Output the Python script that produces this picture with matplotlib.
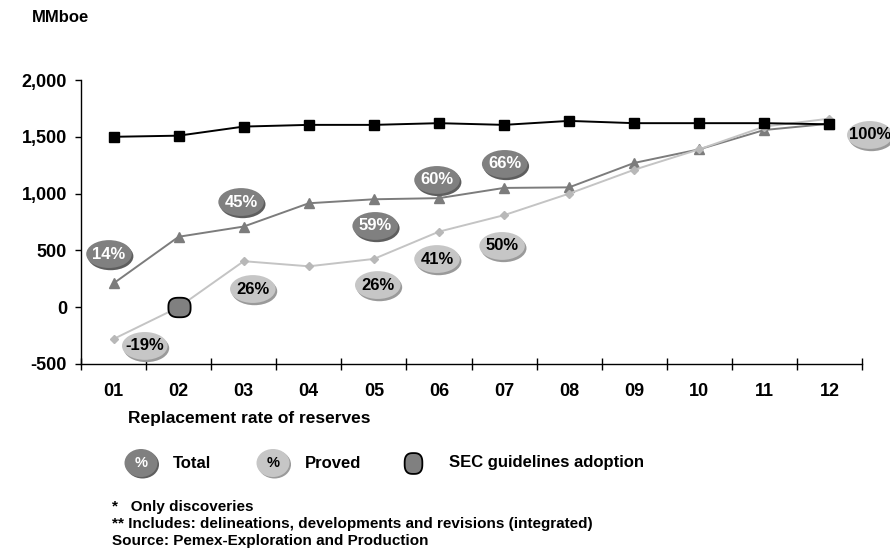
import matplotlib
matplotlib.use('Agg')
import matplotlib.pyplot as plt
from matplotlib.patches import Ellipse
from matplotlib.path import Path
import numpy as np

plt.rcParams['font.family'] = ['Liberation Sans', 'DejaVu Sans']
plt.rcParams['font.weight'] = 'bold'

# ---------------- data ----------------
years = ['01', '02', '03', '04', '05', '06', '07', '08', '09', '10', '11', '12']
production = [1500, 1510, 1590, 1605, 1605, 1620, 1605, 1640, 1620, 1620, 1620, 1610]
total_reserves = [210, 620, 710, 915, 950, 960, 1050, 1055, 1270, 1390, 1560, 1615]
proved_reserves = [-280, 0, 405, 360, 425, 665, 810, 1000, 1210, 1390, 1590, 1660]

total_rate_years = ['01', '03', '05', '06', '07']
total_rate_labels = ['14%', '45%', '59%', '60%', '66%']
proved_rate_years = ['01', '03', '05', '06', '07', '12']
proved_rate_labels = ['-19%', '26%', '26%', '41%', '50%', '100%']
sec_year = '02'
sec_value = 0

yticks = [-500, 0, 500, 1000, 1500, 2000]

# ---------------- layout (label placement) ----------------
total_bubble_dx = [-0.07, -0.04, 0.02, -0.03, 0.01]
total_bubble_y = [468, 926, 715, 1120, 1261]
proved_bubble_dx = [0.48, 0.14, 0.06, -0.03, -0.03, 0.62]
proved_bubble_y = [-341, 160, 195, 424, 539, 1516]

DARK_FILL, DARK_RIM = '#808080', '#5e5e5e'
LIGHT_FILL, LIGHT_RIM = '#c6c6c6', '#9a9a9a'


def rounded_marker(sx, sy, n=2.8):
    t = np.linspace(0, 2 * np.pi, 73)
    c, s = np.cos(t), np.sin(t)
    xs = sx * np.sign(c) * np.abs(c) ** (2 / n)
    ys = sy * np.sign(s) * np.abs(s) ** (2 / n)
    return Path(np.column_stack([xs, ys]), closed=True)


W, H = 890, 558
fig = plt.figure(figsize=(W / 100, H / 100), dpi=100)
ax = fig.add_axes([81 / W, (H - 364) / H, (862 - 81) / W, (364 - 80) / H])

x = np.arange(len(years))
ax.plot(x, production, color='black', lw=1.4, marker='s', ms=7.5, zorder=5)
ax.plot(x, total_reserves, color='#7c7c7c', lw=1.4, marker='^', ms=7.5, zorder=3)
ax.plot(x, proved_reserves, color='#c4c4c4', lw=1.4, marker='D', ms=4.5,
        mfc='#b8b8b8', mec='#b8b8b8', zorder=4)

sx = years.index(sec_year)
ax.plot([sx], [sec_value], marker=rounded_marker(1.0, 0.88), ms=16,
        mfc='#808080', mec='black', mew=1.3, zorder=6, linestyle='none')


def bubble(axis, cx, cy, text, fill, rim, tcolor, w, h, sdx, sdy, fs):
    sh = Ellipse((cx + sdx, cy + sdy), w, h, facecolor=rim, edgecolor='none',
                 zorder=7, clip_on=False)
    axis.add_patch(sh)
    e = Ellipse((cx, cy), w, h, facecolor=fill, edgecolor='none', zorder=8,
                clip_on=False)
    axis.add_patch(e)
    axis.text(cx, cy, text, ha='center', va='center', color=tcolor,
              fontsize=fs, fontweight='bold', zorder=9, clip_on=False)


bw, bh = 0.70, 245
for yr, lab, dx, by in zip(total_rate_years, total_rate_labels, total_bubble_dx, total_bubble_y):
    bubble(ax, years.index(yr) + dx, by, lab, DARK_FILL, DARK_RIM, 'white',
           bw, bh, 0.025, -20, 12)
for yr, lab, dx, by in zip(proved_rate_years, proved_rate_labels, proved_bubble_dx, proved_bubble_y):
    bubble(ax, years.index(yr) + dx, by, lab, LIGHT_FILL, LIGHT_RIM, 'black',
           bw, bh, 0.025, -20, 12)

ax.set_xlim(-0.5, len(years) - 0.5)
ax.set_ylim(-500, 2000)
ax.set_yticks(yticks)
ax.set_yticklabels([f'{v:,}' for v in yticks])
ax.set_xticks(np.arange(-0.5, len(years)), labels=[''] * (len(years) + 1))
ax.set_xticks(x, labels=years, minor=True)
ax.tick_params(axis='x', which='major', direction='inout', length=8, width=1)
ax.tick_params(axis='x', which='minor', length=0, pad=14, labelsize=13)
ax.tick_params(axis='y', direction='out', length=4, width=1, pad=6, labelsize=13)
for lab in ax.get_xticklabels(minor=True) + ax.get_yticklabels():
    lab.set_fontweight('bold')
for s in ['top', 'right']:
    ax.spines[s].set_visible(False)
for s in ['left', 'bottom']:
    ax.spines[s].set_linewidth(1)
ax.patch.set_visible(False)

# ---------------- overlay for free texts & legend (pixel coordinates) ----------------
ov = fig.add_axes([0, 0, 1, 1], zorder=-1)
ov.set_xlim(0, W)
ov.set_ylim(H, 0)
ov.axis('off')

ov.text(32, 17, 'MMboe', fontsize=12, fontweight='bold', va='center', ha='left')
ov.text(128, 418, 'Replacement rate of reserves', fontsize=12.5, fontweight='bold',
        va='center', ha='left')

# legend
bubble(ov, 141, 463, '%', DARK_FILL, DARK_RIM, 'white', 33, 28, 1.5, 1.5, 10.5)
ov.text(173, 463, 'Total', fontsize=12, fontweight='bold', va='center', ha='left')
bubble(ov, 273, 463, '%', LIGHT_FILL, LIGHT_RIM, 'black', 33, 28, 1.5, 1.5, 10.5)
ov.text(305, 463, 'Proved', fontsize=12, fontweight='bold', va='center', ha='left')
ov.plot([413], [463], marker=rounded_marker(0.85, 1.0), ms=15, mfc='#808080',
        mec='black', mew=1.3, linestyle='none')
ov.text(449, 463, 'SEC guidelines adoption', fontsize=12, fontweight='bold',
        va='center', ha='left')

ov.text(112, 507, '*   Only discoveries', fontsize=11, fontweight='bold', va='center')
ov.text(112, 524, '** Includes: delineations, developments and revisions (integrated)',
        fontsize=11, fontweight='bold', va='center')
ov.text(112, 541, 'Source: Pemex-Exploration and Production', fontsize=11,
        fontweight='bold', va='center')

fig.savefig('out.png', dpi=100)
